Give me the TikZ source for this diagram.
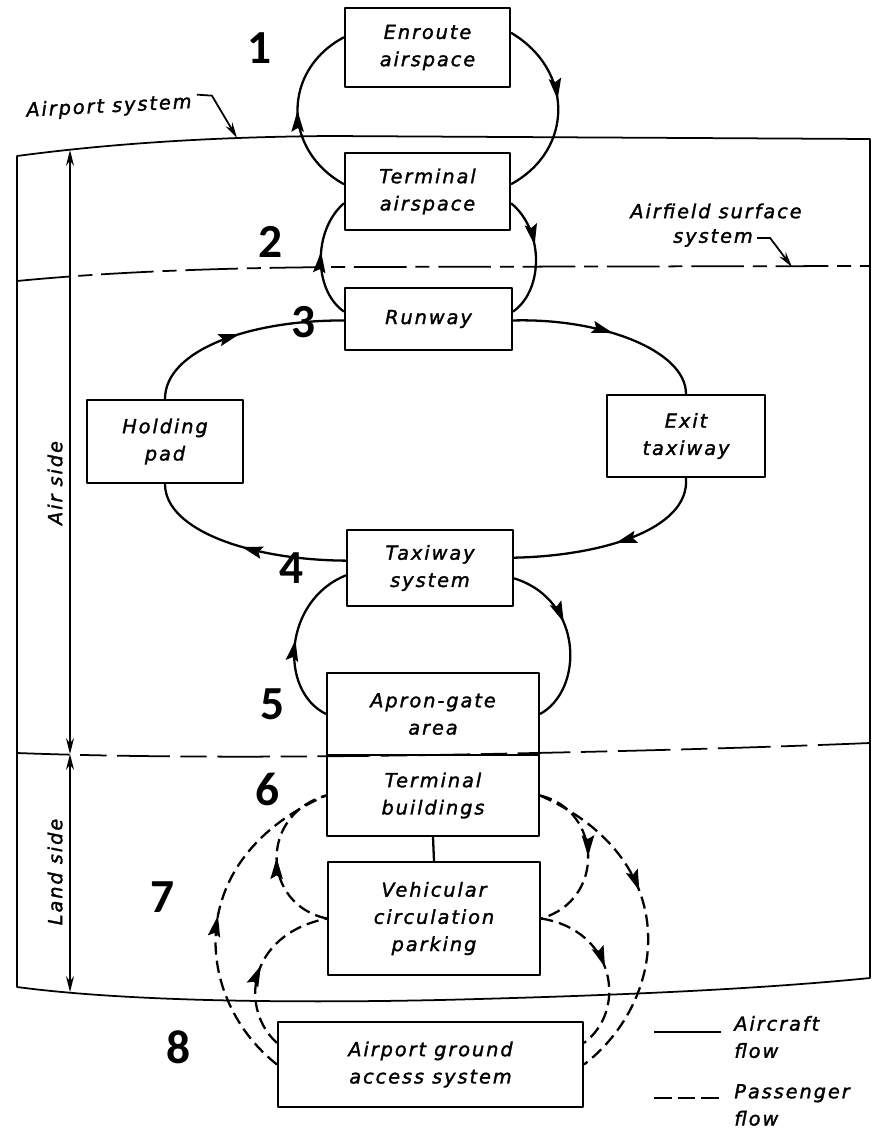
\documentclass[tikz,border=0pt]{standalone}
\usepackage{fontspec}
\newfontfamily\boxfont[LetterSpace=10, FakeBold=1.6]{DejaVu Sans}
\newfontfamily\numfont{Carlito}
\usetikzlibrary{arrows.meta,decorations.markings}

\tikzset{
  box/.style={draw, line width=1.2pt, inner sep=0pt, align=center,
    font=\boxfont\itshape\fontsize{11}{15.5}\selectfont},
  lettering/.style={inner sep=0pt, align=left, font=\boxfont\itshape\fontsize{11}{15.5}\selectfont},
  num/.style={inner sep=0pt, font=\numfont\bfseries\fontsize{27}{30}\selectfont},
  frame/.style={line width=1pt},
  flow/.style={line width=1.3pt},
  pax/.style={line width=1.3pt, dash pattern=on 7pt off 3.5pt},
  midarrow/.style={postaction={decorate}, decoration={markings,
    mark=at position #1 with {\arrow{Stealth[length=12pt,width=7pt,inset=2pt]}}}},
}

\begin{document}
\begin{tikzpicture}[x=0.02cm, y=-0.02cm, line join=round]
\useasboundingbox (0,0) rectangle (875,1129);

% airport system frame and boundaries
\draw[frame] (17,156) .. controls (100,145) and (200,137) .. (330,136) -- (870,139)
  -- (870,978) .. controls (750,990) and (600,996) .. (440,1000)
  .. controls (300,1003) and (130,1002) .. (17,987) -- cycle;
\draw[frame, dash pattern=on 30pt off 5pt on 8pt off 5pt]
  (17,281) .. controls (100,273) and (200,268) .. (340,267) -- (870,266);
\draw[frame, dash pattern=on 30pt off 6pt on 15pt off 6pt]
  (17,753) .. controls (150,758) and (300,757) .. (433,755)
  .. controls (600,752) and (750,748) .. (870,743);

% air side / land side
\coordinate (airtop) at (70,150);
\coordinate (split) at (70,754);
\coordinate (landbot) at (70,992);
\draw[frame, {Stealth[length=9pt,width=4.5pt]}-{Stealth[length=9pt,width=4.5pt]}] (airtop) -- (split);
\draw[frame, {Stealth[length=9pt,width=4.5pt]}-{Stealth[length=9pt,width=4.5pt]}] (split) -- (landbot);
\node[lettering, rotate=90] (airside) at (55,483) {Air side};
\node[lettering, rotate=90] (landside) at (55,872) {Land side};

% boxes
\node[box, minimum width=3.3cm, minimum height=1.58cm] (enr) at (427.5,47.5) {Enroute\\airspace};
\node[box, minimum width=3.3cm, minimum height=1.54cm] (tas) at (427.5,191.5) {Terminal\\airspace};
\node[box, minimum width=3.34cm, minimum height=1.24cm] (rwy) at (428.5,319) {Runway};
\node[box, minimum width=3.12cm, minimum height=1.66cm] (hold) at (165,441.5) {Holding\\pad};
\node[box, minimum width=3.16cm, minimum height=1.64cm] (exit) at (686,436) {Exit\\taxiway};
\node[box, minimum width=3.32cm, minimum height=1.52cm] (taxi) at (430,568) {Taxiway\\system};
\node[box, minimum width=4.24cm, minimum height=1.64cm] (apron) at (433,714) {Apron-gate\\area};
\node[box, minimum width=4.24cm, minimum height=1.62cm] (tbld) at (433,795.5) {Terminal\\buildings};
\node[box, minimum width=4.24cm, minimum height=2.26cm] (veh) at (434,918.5) {Vehicular\\circulation\\parking};
\node[box, minimum width=6.1cm, minimum height=1.7cm] (gas) at (430.5,1064.5) {Airport ground\\access system};
\draw[flow] (tbld.south) -- (veh.north);

% aircraft flow
\draw[flow, midarrow=0.5] (tas.175) .. controls (282,150) and (282,70) .. (enr.173);
\draw[flow, midarrow=0.45] (enr.10) .. controls (574,70) and (574,150) .. (tas.5);
\draw[flow, midarrow=0.55] (rwy.175) .. controls (313,290) and (313,230) .. (tas.188);
\draw[flow, midarrow=0.4] (tas.352) .. controls (544,230) and (544,290) .. (rwy.5);
\draw[flow, midarrow=0.5] (rwy.359) .. controls (600,318) and (686,350) .. (exit.north);
\draw[flow, midarrow=0.5] (exit.south) .. controls (690,530) and (600,556) .. (taxi.7);
\draw[flow, midarrow=0.5] (taxi.175) .. controls (250,560) and (165,530) .. (hold.south);
\draw[flow, midarrow=0.5] (hold.north) .. controls (165,350) and (250,320) .. (rwy.181);
\draw[flow, midarrow=0.5] (apron.west) .. controls (278,690) and (284,600) .. (taxi.185);
\draw[flow, midarrow=0.4] (taxi.353) .. controls (584,600) and (584,690) .. (apron.east);

% passenger flow
\draw[pax, midarrow=0.5] (gas.west) .. controls (195,1000) and (180,860) .. (tbld.west);
\draw[pax, midarrow=0.5] (veh.west) .. controls (262,905) and (258,815) .. (tbld.west);
\draw[pax, midarrow=0.5] (gas.172) .. controls (240,1010) and (246,935) .. (veh.west);
\draw[pax, midarrow=0.42] (tbld.east) .. controls (685,860) and (668,1000) .. (gas.east);
\draw[pax, midarrow=0.5] (tbld.east) .. controls (602,810) and (606,900) .. (veh.east);
\draw[pax, midarrow=0.5] (veh.east) .. controls (615,930) and (628,1010) .. (gas.8);

% labels with leaders
\node[lettering, rotate=3] (apsys) at (109,107) {Airport system};
\coordinate (apsystip) at (237,138);
\draw[frame, -{Stealth[length=9pt,width=4.5pt]}] ([shift={(5,-8)}]apsys.east) -- ++(15,1) -- (apsystip);
\node[lettering] (afsA) at (716,211) {Airfield surface};
\node[lettering] (afsB) at (713,238) {system};
\coordinate (afstip) at (792,267);
\draw[frame, -{Stealth[length=9pt,width=4.5pt]}] ([shift={(4,0)}]afsB.east) -- ++(13,0) -- (afstip);

% legend
\coordinate (legA1) at (654,1032); \coordinate (legA2) at (721,1032);
\coordinate (legP1) at (654,1098); \coordinate (legP2) at (721,1098);
\draw[flow] (legA1) -- (legA2);
\draw[flow, dash pattern=on 10pt off 3.5pt] (legP1) -- (legP2);
\node[lettering, anchor=west] (legaircraft) at (734,1037) {Aircraft\\flow};
\node[lettering, anchor=west] (legpax) at (734,1105) {Passenger\\flow};

% numbers
\node[num] (n1) at (260,48) {1};
\node[num] (n2) at (271,242) {2};
\node[num] (n3) at (304,322) {3};
\node[num] (n4) at (292,568) {4};
\node[num] (n5) at (273,704) {5};
\node[num] (n6) at (268,789) {6};
\node[num] (n7) at (163,897) {7};
\node[num] (n8) at (179,1047) {8};
\end{tikzpicture}
\end{document}
